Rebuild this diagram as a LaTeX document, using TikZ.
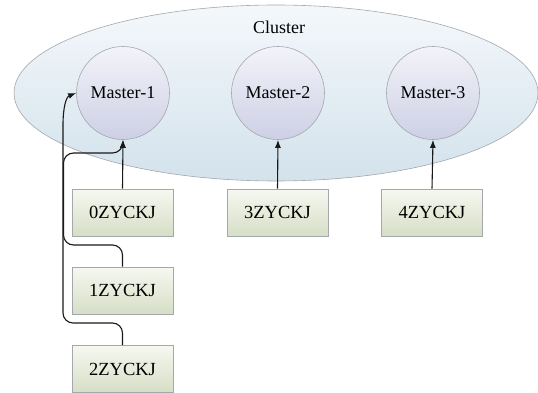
\documentclass[tikz,border=0pt]{standalone}
\usepackage{fontspec}
\setmainfont{Liberation Serif}
\usetikzlibrary{shapes.geometric,arrows.meta}
\definecolor{ellTop}{HTML}{F4F8FB}
\definecolor{ellBot}{HTML}{D3E2EC}
\definecolor{cirTop}{HTML}{F3F3F9}
\definecolor{cirBot}{HTML}{CDD0E5}
\definecolor{boxTop}{HTML}{F6F8F0}
\definecolor{boxBot}{HTML}{D6DEC6}
\definecolor{edgeGray}{HTML}{A4A8AC}
\tikzset{
  clusterell/.style={ellipse, draw=edgeGray, line width=0.6pt, top color=ellTop, bottom color=ellBot, minimum width=524pt, minimum height=176pt, inner sep=0pt},
  master/.style={circle, draw=edgeGray, line width=0.6pt, top color=cirTop, bottom color=cirBot, minimum size=93pt, inner sep=0pt, font=\fontsize{18}{20}\selectfont},
  zbox/.style={rectangle, draw=edgeGray, line width=0.6pt, top color=boxTop, bottom color=boxBot, minimum width=101pt, minimum height=47pt, inner sep=0pt, font=\fontsize{18.5}{20}\selectfont},
  arr/.style={line width=1.1pt, draw=black!90, -{Latex[length=8pt,width=6pt]}},
}
\begin{document}
\begin{tikzpicture}[x=1pt,y=-1pt]
\useasboundingbox (0,0) rectangle (538,393);
\node[clusterell] (cl) at (276,93) {};
\node[font=\fontsize{18}{20}\selectfont] (cltext) at (279,27) {Cluster};
\node[master] (m1) at (123,93) {Master-1};
\node[master] (m2) at (278,93) {Master-2};
\node[master] (m3) at (433,93) {Master-3};
\node[zbox] (b0) at (122.5,212.5) {0ZYCKJ};
\node[zbox] (b1) at (122.5,290.5) {1ZYCKJ};
\node[zbox] (b2) at (122.5,369) {2ZYCKJ};
\node[zbox] (b3) at (277.5,212.5) {3ZYCKJ};
\node[zbox] (b4) at (432,212.5) {4ZYCKJ};
\draw[arr] (b0.north) -- (m1.south);
\draw[arr] (b3.north) -- (m2.south);
\draw[arr] (b4.north) -- (m3.south);
\draw[arr, rounded corners=10pt] (b1.north) -- (122.5,245) -- (63.5,245) -- (63.5,153) -- (122.5,153) -- (m1.south);
\draw[arr, rounded corners=10pt] (b2.north) -- (122.5,323) -- (63,323) -- (63,135) .. controls (63,108) and (66,97) .. (m1.west);
\end{tikzpicture}
\end{document}
